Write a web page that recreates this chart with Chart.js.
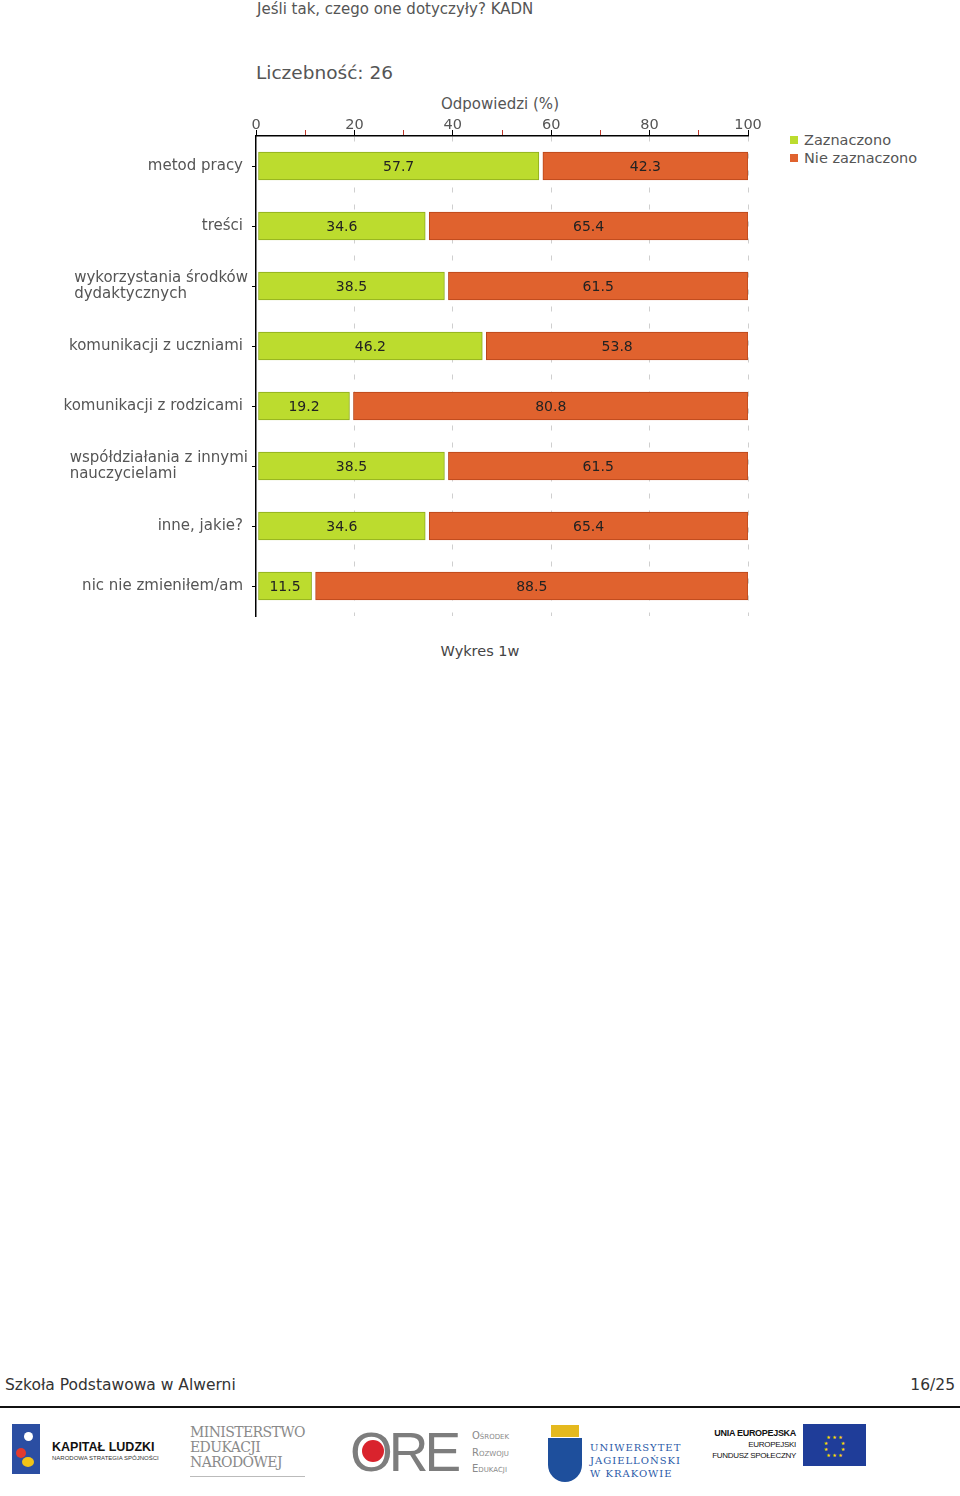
<!DOCTYPE html>
<html lang="pl">
<head>
<meta charset="utf-8">
<script src="https://cdn.jsdelivr.net/npm/chart.js@4.4.1/dist/chart.umd.min.js"></script>
<style>
  body { margin: 0; width: 960px; height: 1496px; background: #fff; position: relative; font-family: "DejaVu Sans", Verdana, sans-serif; overflow: hidden; }
  .abs { position: absolute; white-space: nowrap; }
  #chart { position: absolute; left: 0; top: 0; }
  .t { color: #555; }
  .leg i { display: inline-block; width: 8px; height: 8px; margin-right: 6px; vertical-align: 1px; }
</style>
</head>
<body>

<div class="abs t" style="left:257px; top:0px; font-size:15px;">Jeśli tak, czego one dotyczyły? KADN</div>
<div class="abs t" style="left:256px; top:62px; font-size:18.5px;">Liczebność: 26</div>
<div class="abs t" style="left:441px; top:95px; font-size:15px;">Odpowiedzi (%)</div>
<div class="abs t leg" style="left:790px; top:131px; font-size:14.5px; line-height:18px;">
  <div><i style="background:#bcdc2e"></i>Zaznaczono</div>
  <div><i style="background:#e0622e"></i>Nie zaznaczono</div>
</div>

<canvas id="chart" width="960" height="640"></canvas>

<div class="abs" style="left:0; width:960px; top:643px; text-align:center; font-size:14.5px; color:#444;">Wykres 1w</div>

<div class="abs" style="left:5px; top:1376px; font-size:15.5px; color:#333;">Szkoła Podstawowa w Alwerni</div>
<div class="abs" style="right:5px; top:1376px; font-size:15.5px; color:#333;">16/25</div>
<div class="abs" style="left:0; top:1406px; width:960px; height:2px; background:#111;"></div>

<!-- logos (rough) -->
<div class="abs" style="left:12px; top:1424px; width:28px; height:50px; background:#2b4ea2;"></div>
<div class="abs" style="left:16px; top:1448px; width:10px; height:10px; background:#e23a2e; border-radius:50%;"></div>
<div class="abs" style="left:22px; top:1457px; width:12px; height:10px; background:#f2c418; border-radius:50%;"></div>
<div class="abs" style="left:24px; top:1432px; width:9px; height:9px; background:#fff; border-radius:50%;"></div>
<div class="abs" style="left:52px; top:1440px; font-family:'Liberation Sans Narrow','Liberation Sans',sans-serif; font-weight:bold; font-size:12.5px; color:#111;">KAPITAŁ LUDZKI</div>
<div class="abs" style="left:52px; top:1455px; font-family:'Liberation Sans Narrow','Liberation Sans',sans-serif; font-size:6px; color:#333;">NARODOWA STRATEGIA SPÓJNOŚCI</div>

<div class="abs" style="left:190px; top:1425px; font-family:'DejaVu Serif','Liberation Serif',serif; font-size:14px; line-height:15px; color:#8a8a8a; letter-spacing:-0.6px;">MINISTERSTWO<br>EDUKACJI<br>NARODOWEJ</div>
<div class="abs" style="left:190px; top:1476px; width:115px; height:1px; background:#bbb;"></div>

<div class="abs" style="left:350px; top:1422px; font-family:'Liberation Sans','DejaVu Sans',sans-serif; font-size:55px; line-height:60px; color:#7d7d7d; letter-spacing:-4px;">ORE</div>
<div class="abs" style="left:362px; top:1440px; width:22px; height:22px; background:#d9232d; border-radius:50%;"></div>
<div class="abs" style="left:472px; top:1428px; font-size:10px; line-height:16.5px; color:#8a8a8a; font-variant:small-caps;">Ośrodek<br>Rozwoju<br>Edukacji</div>

<div class="abs" style="left:548px; top:1438px; width:34px; height:44px; background:#1e4f9c; border-radius:0 0 17px 17px;"></div>
<div class="abs" style="left:551px; top:1425px; width:28px; height:12px; background:#e5b91e;"></div>
<div class="abs" style="left:590px; top:1441px; font-family:'DejaVu Serif','Liberation Serif',serif; font-size:10px; line-height:13px; color:#2a5aa8; letter-spacing:1px;">UNIWERSYTET<br>JAGIELLOŃSKI<br>W KRAKOWIE</div>

<div class="abs" style="left:707px; top:1428px; width:89px; text-align:right; font-family:'Liberation Sans Narrow','Liberation Sans',sans-serif; font-size:8px; line-height:11px; color:#111; letter-spacing:-0.3px;"><b style="font-size:9px;">UNIA EUROPEJSKA</b><br>EUROPEJSKI<br>FUNDUSZ SPOŁECZNY</div>
<div class="abs" style="left:803px; top:1424px; width:63px; height:42px; background:#1f3d99;"></div>
<div class="abs" style="left:803px; top:1424px; width:63px; height:42px; color:#ffdd00; font-size:5px; line-height:6px; text-align:center; padding-top:10px; box-sizing:border-box;">★ ★ ★<br>★&nbsp;&nbsp;&nbsp;&nbsp;&nbsp;&nbsp;&nbsp;&nbsp;★<br>★&nbsp;&nbsp;&nbsp;&nbsp;&nbsp;&nbsp;&nbsp;&nbsp;★<br>★ ★ ★</div>

<script>
// ── DATA ───────────────────────────────────────────────────────────────────
const categories = [
  ['metod pracy'],
  ['treści'],
  ['wykorzystania środków', 'dydaktycznych'],
  ['komunikacji z uczniami'],
  ['komunikacji z rodzicami'],
  ['współdziałania z innymi', 'nauczycielami'],
  ['inne, jakie?'],
  ['nic nie zmieniłem/am'],
];
const zaznaczono    = [57.7, 34.6, 38.5, 46.2, 19.2, 38.5, 34.6, 11.5];
const nieZaznaczono = [42.3, 65.4, 61.5, 53.8, 80.8, 61.5, 65.4, 88.5];
const seriesNames   = ['Zaznaczono', 'Nie zaznaczono'];

const COLORS = {
  green:       '#bcdc2e',
  greenBorder: '#8eab1c',
  orange:      '#e0622e',
  orangeBorder:'#b8461a',
  text:        '#555',
  value:       '#222',
};
const FONT = '"DejaVu Sans", Verdana, sans-serif';

// ── PLUGINS ────────────────────────────────────────────────────────────────

// small white gap between segments, like the original
const gapPlugin = {
  id: 'gap',
  afterDatasetsUpdate(chart) {
    chart.getDatasetMeta(0).data.forEach(el => { el.base += 2; el.x -= 1; });
    chart.getDatasetMeta(1).data.forEach(el => { el.base += 3; });
  },
};

// value labels centred in each bar
const valuePlugin = {
  id: 'values',
  afterDatasetsDraw(chart) {
    const ctx = chart.ctx;
    ctx.save();
    ctx.font = '14px ' + FONT;
    ctx.fillStyle = COLORS.value;
    ctx.textAlign = 'center';
    ctx.textBaseline = 'middle';
    chart.data.datasets.forEach((ds, di) => {
      chart.getDatasetMeta(di).data.forEach((el, i) => {
        ctx.fillText(ds.data[i].toFixed(1), (el.x + el.base) / 2, el.y + 1);
      });
    });
    ctx.restore();
  },
};

// category labels: block right-aligned to the axis, lines left-aligned inside
const catLabelPlugin = {
  id: 'catLabels',
  afterDraw(chart) {
    const ctx = chart.ctx;
    const y = chart.scales.y;
    ctx.save();
    ctx.font = '15px ' + FONT;
    ctx.fillStyle = COLORS.text;
    ctx.textAlign = 'left';
    ctx.textBaseline = 'middle';
    categories.forEach((lines, i) => {
      const cy = y.getPixelForValue(i);
      const w = Math.max(...lines.map(l => ctx.measureText(l).width));
      const right = lines.length > 1 ? 248 : 243;
      const top = cy - (lines.length - 1) * 8;
      lines.forEach((l, k) => ctx.fillText(l, right - w, top + k * 16));
    });
    ctx.restore();
  },
};

// ── CHART ──────────────────────────────────────────────────────────────────
new Chart(document.getElementById('chart'), {
  type: 'bar',
  data: {
    labels: categories.map(c => c.join(' ')),
    datasets: [
      {
        label: seriesNames[0],
        data: zaznaczono,
        backgroundColor: COLORS.green,
        borderColor: COLORS.greenBorder,
        borderWidth: 1,
        borderSkipped: false,
        barThickness: 28,
      },
      {
        label: seriesNames[1],
        data: nieZaznaczono,
        backgroundColor: COLORS.orange,
        borderColor: COLORS.orangeBorder,
        borderWidth: 1,
        borderSkipped: false,
        barThickness: 28,
      },
    ],
  },
  options: {
    indexAxis: 'y',
    responsive: false,
    animation: false,
    layout: { padding: { left: 0, right: 212, top: 106, bottom: 24 } },
    plugins: {
      legend: { display: false },
      tooltip: { enabled: false },
    },
    scales: {
      x: {
        position: 'top',
        stacked: true,
        min: 0,
        max: 100,
        afterFit: s => { s.height = 30; },
        ticks: {
          stepSize: 10,
          padding: -4,
          color: COLORS.text,
          font: { family: FONT, size: 14.5 },
          callback: v => (v % 20 === 0 ? v : ''),
        },
        grid: {
          color: c => (c.tick && c.tick.value % 20 === 0 && c.tick.value !== 0 ? '#cfcfcf' : 'transparent'),
          tickColor: c => (c.tick && c.tick.value % 20 === 0 ? '#000' : '#c0392b'),
          tickLength: 6,
        },
        border: { color: '#000', width: 1.5, dash: [5, 12] },
      },
      y: {
        stacked: true,
        afterFit: s => { s.width = 256; },
        ticks: { display: false },
        grid: {
          drawOnChartArea: false,
          offset: false,
          tickColor: '#000',
          tickLength: 4,
        },
        border: { color: '#000', width: 1.5 },
      },
    },
  },
  plugins: [gapPlugin, valuePlugin, catLabelPlugin],
});
</script>
</body>
</html>
